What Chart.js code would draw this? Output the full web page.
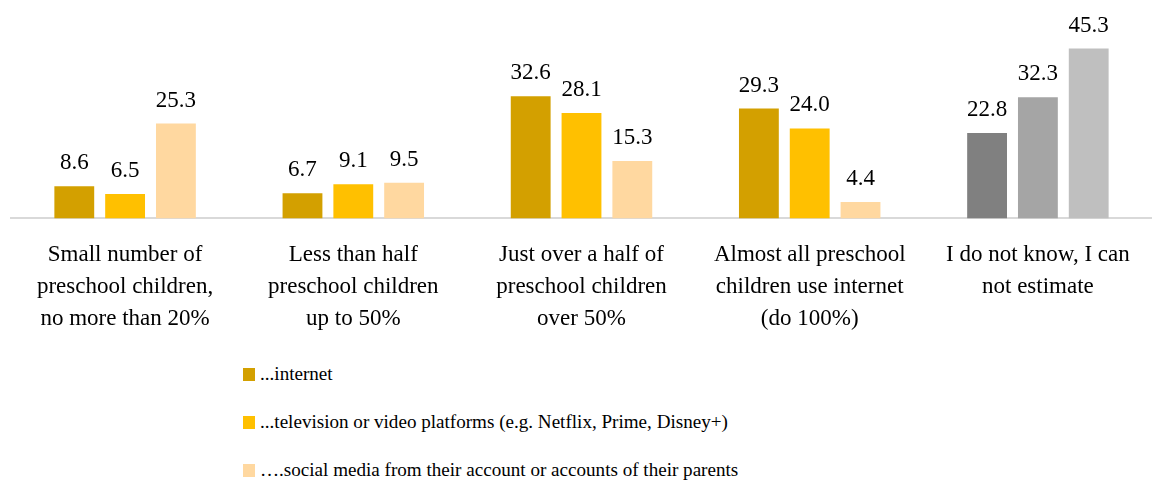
<!DOCTYPE html>
<html>
<head>
<meta charset="utf-8">
<script src="https://cdn.jsdelivr.net/npm/chart.js@4/dist/chart.umd.min.js"></script>
<style>
  html, body { margin: 0; padding: 0; background: #fff; }
  #wrap { position: relative; width: 1152px; height: 485px; }
  #box { position: absolute; left: 0; top: 0; width: 1152px; height: 347px; }
  #legend { position: absolute; left: 243px; top: 350px; font-family: "Liberation Serif", serif; font-size: 19.1px; color: #000; }
  #legend .item { height: 48px; display: flex; align-items: center; }
  #legend .sw { width: 12px; height: 13px; margin-right: 5px; flex: none; }
</style>
</head>
<body>
<div id="wrap">
  <div id="box"><canvas id="chart"></canvas></div>
  <div id="legend"></div>
</div>
<script>
const categories = [
    ['Small number of', 'preschool children,', 'no more than 20%'],
    ['Less than half', 'preschool children', 'up to 50%'],
    ['Just over a half of', 'preschool children', 'over 50%'],
    ['Almost all preschool', 'children use internet', '(do 100%)'],
    ['I do not know, I can', 'not estimate']
];
const seriesNames = [
    '...internet',
    '...television or video platforms (e.g. Netflix, Prime, Disney+)',
    '\u2026.social media from their account or accounts of their parents'
];
const internet = [8.6, 6.7, 32.6, 29.3, 22.8];
const television = [6.5, 9.1, 28.1, 24.0, 32.3];
const socialMedia = [25.3, 9.5, 15.3, 4.4, 45.3];

// the "don't know" group is drawn in greys
const mainColors = ['#D3A000', '#FFC000', '#FFD8A0'];
const greyColors = ['#808080', '#A5A5A5', '#BFBFBF'];

const FONT = '"Liberation Serif", serif';

function colorsFor(i) {
    return categories.map((c, k) => k === categories.length - 1 ? greyColors[i] : mainColors[i]);
}

const valueLabels = {
    id: 'valueLabels',
    afterDatasetsDraw(chart) {
        const ctx = chart.ctx;
        ctx.save();
        ctx.font = '23px ' + FONT;
        ctx.fillStyle = '#000';
        ctx.textAlign = 'center';
        ctx.textBaseline = 'alphabetic';
        chart.data.datasets.forEach((ds, i) => {
            chart.getDatasetMeta(i).data.forEach((bar, k) => {
                ctx.fillText(ds.data[k].toFixed(1), bar.x, bar.y - 17);
            });
        });
        ctx.restore();
    }
};

const chart = new Chart(document.getElementById('chart'), {
    type: 'bar',
    data: {
        labels: categories,
        datasets: [internet, television, socialMedia].map((d, i) => ({
            label: seriesNames[i],
            data: d,
            backgroundColor: colorsFor(i),
            categoryPercentage: 0.668,
            barPercentage: 0.784
        }))
    },
    options: {
        responsive: true,
        maintainAspectRatio: false,
        animation: false,
        layout: {padding: {top: 31, left: 11, right: 0, bottom: 0}},
        plugins: {legend: {display: false}, tooltip: {enabled: false}},
        scales: {
            x: {
                grid: {display: false},
                border: {display: true, color: '#D9D9D9', width: 2},
                ticks: {
                    color: '#000',
                    padding: 12,
                    maxRotation: 0,
                    autoSkip: false,
                    font: {family: FONT, size: 23, lineHeight: 1.4}
                }
            },
            y: {display: false, min: 0, max: 50}
        }
    },
    plugins: [valueLabels]
});

// legend list below the chart, colours taken from the datasets
const legend = document.getElementById('legend');
chart.data.datasets.forEach((ds) => {
    const item = document.createElement('div');
    item.className = 'item';
    const sw = document.createElement('span');
    sw.className = 'sw';
    sw.style.background = ds.backgroundColor[0];
    const txt = document.createElement('span');
    txt.textContent = ds.label;
    item.appendChild(sw);
    item.appendChild(txt);
    legend.appendChild(item);
});
</script>
</body>
</html>
